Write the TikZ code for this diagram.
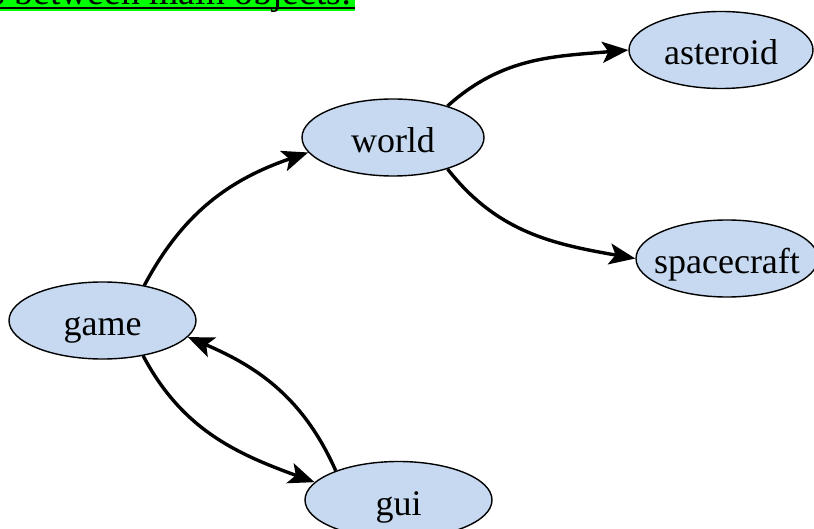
\documentclass[tikz,border=0pt]{standalone}
\usepackage{fontspec}
\setmainfont{Liberation Serif}
\usetikzlibrary{shapes.geometric,arrows.meta}
\definecolor{nodefill}{RGB}{198,217,240}
\definecolor{hlgreen}{RGB}{0,255,0}
\begin{document}
\begin{tikzpicture}[x=1pt,y=1pt,
  obj/.style={ellipse,draw=black,line width=1.4pt,fill=nodefill,inner sep=0pt,
    minimum width=#1,minimum height=77pt,text height=30pt,text depth=0pt,
    font=\fontsize{36}{40}\selectfont},
  link/.style={line width=3.4pt,-{Stealth[length=26pt,width=21pt,inset=6pt]}}]
  \useasboundingbox (0,0) rectangle (814,528);
  \clip (0,0) rectangle (814,528);

  % highlighted heading line, cut off by the top edge
  \fill[hlgreen] (0,517) rectangle (355,528);
  \node[anchor=base west,inner sep=0pt,font=\fontsize{37.7}{40}\selectfont]
    (heading) at (-9.7,523) {s between main objects:};
  \draw[line width=1.8pt] (0,520) -- (355,520);

  % objects
  \node[obj=187pt] (game)       at (102.5,207.5) {\makebox[0pt]{game}};
  \node[obj=182pt] (world)      at (393,390.5)   {\makebox[0pt]{world}};
  \node[obj=184pt] (asteroid)   at (721,478)     {\makebox[0pt]{asteroid}};
  \node[obj=182pt] (spacecraft) at (727,269.5)   {\makebox[0pt]{spacecraft}};
  \node[obj=187pt] (gui)        at (398.5,28)    {\makebox[0pt]{gui}};

  % relations
  \draw[link] (game.40)   to[out=62,in=199]  (world.190);
  \draw[link] (world.30)  to[out=42,in=185]  (asteroid.west);
  \draw[link] (world.330) to[out=-52,in=170] (spacecraft.west);
  \draw[link] (game.319)  to[out=-62,in=160] (gui.168);
  \draw[link] (gui.155)   to[out=114,in=-23] (game.349);
\end{tikzpicture}
\end{document}
